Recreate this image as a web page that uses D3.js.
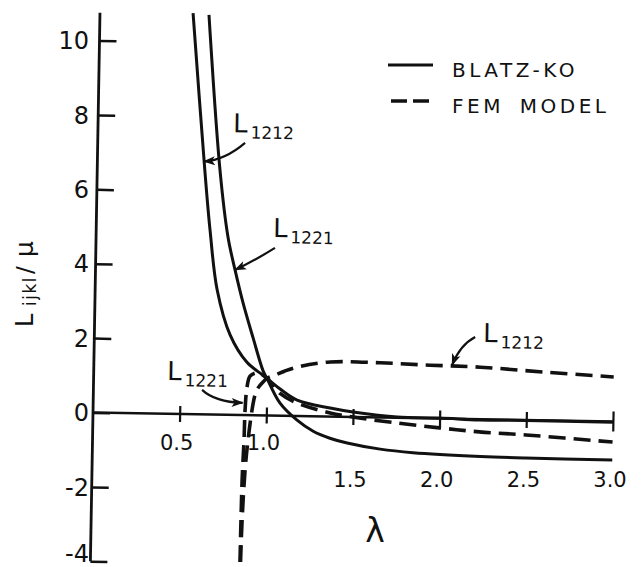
<!DOCTYPE html>
<html>
<head>
<meta charset="utf-8">
<script src="https://cdn.jsdelivr.net/npm/d3@7"></script>
<style>
  body { margin: 0; background: #fff; }
  text { font-family: "DejaVu Sans", sans-serif; fill: #111; }
</style>
</head>
<body>
<div id="chart"></div>
<script>
// Values: stretch lambda vs L_ijkl / mu
// Blatz-Ko (solid)
const lamBK1212 = [0.537, 0.622, 0.657, 0.704, 0.783, 0.883, 0.971, 1.0, 1.077, 1.176, 1.367, 1.5, 1.755, 2.0, 2.23, 2.5, 3.0];
const valBK1212 = [10.78, 6.5, 4.95, 3.35, 2.15, 1.42, 1.10, 1.0, 0.72, 0.43, 0.23, 0.135, 0.02, 0.015, -0.02, -0.01, -0.02];
const lamBK1221 = [0.629, 0.708, 0.761, 0.805, 0.855, 0.916, 0.977, 1.0, 1.078, 1.178, 1.272, 1.369, 1.469, 1.66, 1.85, 2.24, 2.5, 3.0];
const valBK1221 = [10.74, 6.58, 4.78, 3.90, 3.01, 2.08, 1.20, 1.0, 0.34, -0.11, -0.40, -0.58, -0.70, -0.85, -0.93, -1.0, -1.02, -1.03];
// FEM model (dashed)
const lamFEM1212 = [0.866, 0.871, 0.883, 0.897, 0.917, 0.933, 0.95, 0.978, 1.0, 1.05, 1.1, 1.176, 1.363, 1.651, 1.94, 2.23, 2.59, 3.0];
const valFEM1212 = [-3.95, -2.8, -1.47, -0.67, 0.14, 0.55, 0.74, 0.90, 1.0, 1.1, 1.2, 1.32, 1.47, 1.47, 1.43, 1.40, 1.30, 1.20];
const lamFEM1221 = [0.863, 0.867, 0.874, 0.877, 0.886, 0.902, 0.937, 0.97, 1.0, 1.077, 1.177, 1.368, 1.5, 1.755, 2.0, 2.23, 2.5, 3.0];
const valFEM1221 = [-3.95, -1.74, -0.67, 0.14, 0.76, 1.05, 1.14, 1.1, 1.0, 0.6, 0.35, 0.10, 0.0, -0.14, -0.25, -0.34, -0.40, -0.55];

const xTicks = [0.5, 1.0, 1.5, 2.0, 2.5, 3.0];
const yTicks = [-4, -2, 0, 2, 4, 6, 8, 10];
const yTop = 10.75;

const series = [
  { lam: lamBK1212, val: valBK1212, dashed: false },
  { lam: lamBK1221, val: valBK1221, dashed: false },
  { lam: lamFEM1212, val: valFEM1212, dashed: true },
  { lam: lamFEM1221, val: valFEM1221, dashed: true }
];

// curve labels with arrows (data units)
const notes = [
  { sub: "1212", at: [0.78, 7.6], from: [0.85, 7.32], ctrl: [0.736, 6.85], to: [0.615, 6.8] },
  { sub: "1221", at: [1.02, 4.80], from: [1.033, 4.51], ctrl: [0.903, 4.12], to: [0.805, 3.90] },
  { sub: "1221", at: [0.424, 0.91], from: [0.627, 0.66], ctrl: [0.703, 0.34], to: [0.862, 0.33] },
  { sub: "1212", at: [2.243, 2.08], from: [2.197, 2.21], ctrl: [2.111, 1.99], to: [2.067, 1.45] }
];

const width = 644, height = 567;
const svg = d3.select("#chart").append("svg")
  .attr("width", width)
  .attr("height", height);

svg.append("defs").append("marker")
  .attr("id", "head")
  .attr("viewBox", "-12 -6 14 12")
  .attr("markerUnits", "userSpaceOnUse")
  .attr("markerWidth", 14)
  .attr("markerHeight", 12)
  .attr("orient", "auto")
  .append("path")
  .attr("d", "M1,0 L-11,-4.5 L-8,0 L-11,4.5 Z")
  .attr("fill", "#111");

const x = d3.scaleLinear().domain([0, 3]).range([93, 613]);
const y = d3.scaleLinear().domain([-4, 10]).range([561.3, 40.5]);

// the scanned figure sits about one degree off square
const plot = svg.append("g").attr("transform", `rotate(1, ${x(0)}, ${y(0)})`);

// y axis: ticks point right, labels drawn separately
const yAxis = plot.append("g")
  .attr("transform", `translate(${x(0)},0)`)
  .call(d3.axisLeft(y).tickValues(yTicks).tickSizeInner(-17).tickSizeOuter(0).tickFormat(""));
yAxis.select(".domain").remove();
yAxis.selectAll(".tick line").attr("stroke", "#111").attr("stroke-width", 2.5);
plot.append("line")
  .attr("x1", x(0)).attr("x2", x(0))
  .attr("y1", y(-4)).attr("y2", y(yTop))
  .attr("stroke", "#111").attr("stroke-width", 2.8);

// x axis along zero, ticks crossing the line
const xAxis = plot.append("g")
  .attr("transform", `translate(0,${y(0)})`)
  .call(d3.axisBottom(x).tickValues(xTicks).tickSizeInner(8).tickSizeOuter(0).tickFormat(""));
xAxis.select(".domain").remove();
xAxis.selectAll(".tick line")
  .attr("y1", d => d === 3 ? -10 : -8)
  .attr("y2", d => d === 3 ? 10 : 8)
  .attr("stroke", "#111").attr("stroke-width", 2.2);
plot.append("line")
  .attr("x1", x(0)).attr("x2", x(3))
  .attr("y1", y(0)).attr("y2", y(0))
  .attr("stroke", "#111").attr("stroke-width", 2.5);

// curves
const line = d3.line()
  .x(d => x(d[0]))
  .y(d => y(d[1]))
  .curve(d3.curveCatmullRom.alpha(0.5));

plot.selectAll(".curve")
  .data(series)
  .join("path")
  .attr("class", "curve")
  .attr("d", s => line(s.lam.map((l, i) => [l, s.val[i]])))
  .attr("fill", "none")
  .attr("stroke", "#111")
  .attr("stroke-width", s => s.dashed ? 3.6 : 3)
  .attr("stroke-dasharray", s => s.dashed ? "17 8" : null);

// labels and arrows
notes.forEach(n => {
  plot.append("path")
    .attr("d", `M${x(n.from[0])},${y(n.from[1])} Q${x(n.ctrl[0])},${y(n.ctrl[1])} ${x(n.to[0])},${y(n.to[1])}`)
    .attr("fill", "none")
    .attr("stroke", "#111")
    .attr("stroke-width", 2.2)
    .attr("marker-end", "url(#head)");
  const t = plot.append("text")
    .attr("x", x(n.at[0]))
    .attr("y", y(n.at[1]));
  t.append("tspan").attr("font-size", 26).text("L");
  t.append("tspan").attr("font-size", 17).attr("dx", 3).attr("dy", 6).text(n.sub);
});

// tick labels (upright, as lettered on the original)
svg.selectAll(".ylab")
  .data(yTicks)
  .join("text")
  .attr("class", "ylab")
  .attr("x", 89)
  .attr("y", d => d === -4 ? y(d) - 8 : y(d))
  .attr("dy", "0.36em")
  .attr("text-anchor", "end")
  .attr("font-size", 24)
  .text(d => d);

svg.selectAll(".xlab")
  .data(xTicks)
  .join("text")
  .attr("class", "xlab")
  .attr("x", d => x(d) - 3)
  .attr("y", d => d > 1.2 ? 487 : 450)
  .attr("text-anchor", "middle")
  .attr("font-size", 21)
  .text(d => d.toFixed(1));

// axis titles
svg.append("text")
  .attr("x", 375)
  .attr("y", 542)
  .attr("text-anchor", "middle")
  .attr("font-size", 33)
  .text("λ");

const yTitle = svg.append("text")
  .attr("transform", "translate(33,0) rotate(-90)");
yTitle.append("tspan").attr("x", -327).attr("y", 0).attr("font-size", 24).text("L");
yTitle.append("tspan").attr("x", -306).attr("y", 3).attr("font-size", 17)
  .attr("letter-spacing", 1.5).text("ijkl");
yTitle.append("tspan").attr("x", -274).attr("y", 0).attr("font-size", 23).text("/");
yTitle.append("tspan").attr("x", -257).attr("y", 0).attr("font-size", 25).text("μ");

// legend
const legend = svg.append("g");
legend.append("line")
  .attr("x1", 388).attr("x2", 433).attr("y1", 65).attr("y2", 65)
  .attr("stroke", "#111").attr("stroke-width", 3);
legend.append("line")
  .attr("x1", 391).attr("x2", 433).attr("y1", 101).attr("y2", 101)
  .attr("stroke", "#111").attr("stroke-width", 3.4)
  .attr("stroke-dasharray", "16 6");
legend.append("text")
  .attr("x", 452).attr("y", 77)
  .attr("font-size", 20)
  .attr("letter-spacing", 3.5)
  .text("BLATZ-KO");
legend.append("text")
  .attr("x", 452).attr("y", 113)
  .attr("font-size", 20)
  .attr("letter-spacing", 3.5)
  .attr("word-spacing", 6)
  .text("FEM MODEL");
</script>
</body>
</html>
